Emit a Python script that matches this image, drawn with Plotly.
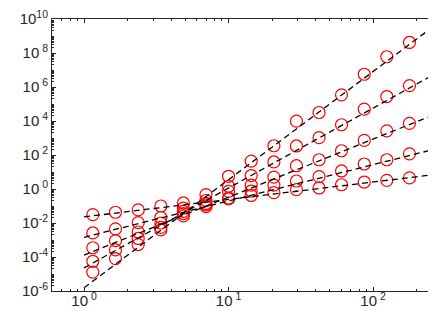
import plotly.graph_objects as go

# x positions of the measured points
x_points = [1.15, 1.65, 2.37, 3.40, 4.87, 6.98, 10.0, 14.35, 20.6, 29.5, 42.3, 60.5, 86.9, 124.5, 178.6]

series_a = [1.29e-5, 8.1e-5, 5.4e-4, 3.9e-3, 2.6e-2, 0.47, 5.6, 44, 350, 9.8e3, 3.16e4, 3.47e5, 5.62e6, 6.03e7, 4.17e8]
series_b = [5.6e-5, 2.6e-4, 1.23e-3, 5.5e-3, 3.6e-2, 0.21, 1.45, 6.2, 39, 340, 1.05e3, 6.0e3, 5.0e4, 2.75e5, 1.20e6]
series_c = [3.5e-4, 9.1e-4, 2.95e-3, 1.0e-2, 4.8e-2, 0.115, 0.72, 1.70, 5.0, 23.4, 52.5, 178, 724, 2630, 7240]
series_d = [2.6e-3, 4.5e-3, 1.05e-2, 2.1e-2, 7.6e-2, 9.1e-2, 0.26, 0.76, 1.70, 2.95, 5.37, 11.5, 29.5, 52.5, 117]
series_e = [3.1e-2, 4.3e-2, 5.9e-2, 0.10, 0.151, 0.141, 0.295, 0.417, 0.617, 0.912, 1.15, 1.78, 2.57, 3.24, 4.47]

# dashed fit lines: end points
fit_x = [1, 300]
fit_a = [1.55e-6, 8.7e9]
fit_b = [2.29e-5, 1.0e7]
fit_c = [1.29e-4, 3.63e4]
fit_d = [1.45e-3, 282]
fit_e = [2.29e-2, 7.94]

# tick labels
x_tick_vals = [1, 10, 100]
x_tick_text = ["10<sup> 0</sup>", "10<sup> 1</sup>", "10<sup> 2</sup>"]
y_tick_vals = [1e-6, 1e-4, 1e-2, 1, 1e2, 1e4, 1e6, 1e8, 1e10]
y_tick_text = ["10<sup>-6</sup>", "10<sup>-4</sup>", "10<sup>-2</sup>", "10<sup> 0</sup>", "10<sup> 2</sup>",
               "10<sup> 4</sup>", "10<sup> 6</sup>", "10<sup> 8</sup>", "10<sup>10</sup>"]

fig = go.Figure()

for ys in [series_a, series_b, series_c, series_d, series_e]:
    fig.add_trace(go.Scatter(
        x=x_points, y=ys, mode="markers",
        marker=dict(symbol="circle-open", size=12, color="#ff0000", line=dict(width=1.2, color="#ff0000")),
        showlegend=False, hoverinfo="skip"))

for ys in [fit_a, fit_b, fit_c, fit_d, fit_e]:
    fig.add_trace(go.Scatter(
        x=fit_x, y=ys, mode="lines",
        line=dict(color="black", width=1.3, dash="6px,4px"),
        showlegend=False, hoverinfo="skip"))

axis_common = dict(
    type="log", showgrid=False, zeroline=False, automargin=False,
    showline=True, linecolor="#262626", linewidth=1, mirror="allticks",
    ticks="inside", ticklen=4, tickcolor="#262626", tickwidth=1,
    ticklabeloverflow="allow",
    tickfont=dict(family="Liberation Sans, Arial, sans-serif", size=15, color="#262626"),
    minor=dict(ticks="inside", ticklen=2, tickcolor="#262626", dtick="D1", showgrid=False),
)

fig.update_xaxes(**axis_common, range=[-0.2218, 2.4771], ticklabelstandoff=-4,
                 tickmode="array", tickvals=x_tick_vals, ticktext=x_tick_text)
fig.update_yaxes(**axis_common, range=[-6, 10],
                 tickmode="array", tickvals=y_tick_vals, ticktext=y_tick_text)

fig.update_layout(
    width=436, height=311,
    margin=dict(l=44, r=2, t=11, b=28),
    paper_bgcolor="white", plot_bgcolor="white",
)

fig.write_html("out.html")
